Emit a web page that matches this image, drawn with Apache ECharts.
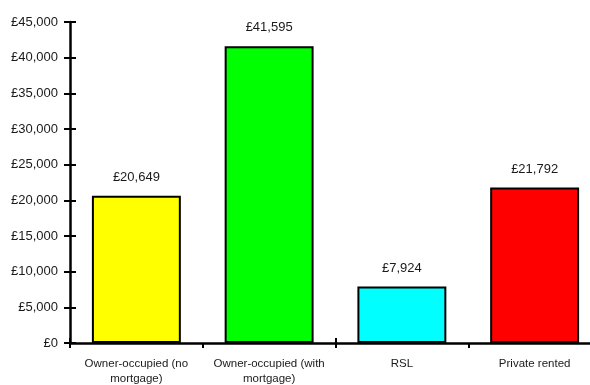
<!DOCTYPE html>
<html>
<head>
<meta charset="utf-8">
<script src="https://cdn.jsdelivr.net/npm/echarts@6/dist/echarts.min.js"></script>
<style>html,body{margin:0;padding:0;background:#fff;}#c{width:590px;height:385px;}</style>
</head>
<body>
<div id="c"></div>
<script>
const categories = ['Owner-occupied (no\nmortgage)', 'Owner-occupied (with\nmortgage)', 'RSL', 'Private rented'];
const values = [20649, 41595, 7924, 21792];
const colors = ['#ffff00', '#00ff00', '#00ffff', '#ff0000'];
const yTicks = {min: 0, max: 45000, interval: 5000};

const FONT = '"Liberation Sans", Arial, sans-serif';
const fmt = v => '£' + Number(v).toLocaleString('en-GB');
const GRID = {left: 70, top: 22, width: 531, height: 321};

const chart = echarts.init(document.getElementById('c'), null, {renderer: 'canvas'});
const baseY = {
  type: 'value', min: yTicks.min, max: yTicks.max, interval: yTicks.interval,
  splitLine: {show: false}
};
const baseX = {type: 'category', data: categories};
chart.setOption({
  animation: false,
  grid: {left: GRID.left, top: GRID.top, width: GRID.width, height: GRID.height,
    containLabel: false, outerBoundsMode: 'none'},
  xAxis: [
    Object.assign({}, baseX, {
      position: 'bottom',
      axisLine: {show: true, lineStyle: {color: '#000', width: 2.5}},
      axisTick: {show: true, length: 5, lineStyle: {color: '#000', width: 2}},
      axisLabel: {color: '#1a1a1a', fontFamily: FONT, fontSize: 11.5, margin: 13, lineHeight: 15, interval: 0}
    }),
    Object.assign({}, baseX, {
      position: 'bottom',
      axisLine: {show: false},
      axisTick: {show: true, inside: true, length: 5, lineStyle: {color: '#000', width: 2}},
      axisLabel: {show: false}
    })
  ],
  yAxis: [
    Object.assign({}, baseY, {
      position: 'left',
      axisLine: {show: true, lineStyle: {color: '#000', width: 2.5}},
      axisTick: {show: true, length: 6, lineStyle: {color: '#000', width: 2}},
      axisLabel: {color: '#1a1a1a', fontFamily: FONT, fontSize: 13, margin: 12, formatter: fmt}
    }),
    Object.assign({}, baseY, {
      position: 'left',
      axisLine: {show: false},
      axisTick: {show: true, inside: true, length: 6, lineStyle: {color: '#000', width: 2}},
      axisLabel: {show: false}
    })
  ],
  series: [{
    type: 'bar',
    data: values.map((v, i) => ({value: v, itemStyle: {color: colors[i]}})),
    barWidth: '67%',
    itemStyle: {borderColor: '#000', borderWidth: 2},
    label: {show: true, position: 'top', distance: 12, color: '#1a1a1a', fontFamily: FONT, fontSize: 13,
      formatter: p => fmt(p.value)}
  }]
});
</script>
</body>
</html>
